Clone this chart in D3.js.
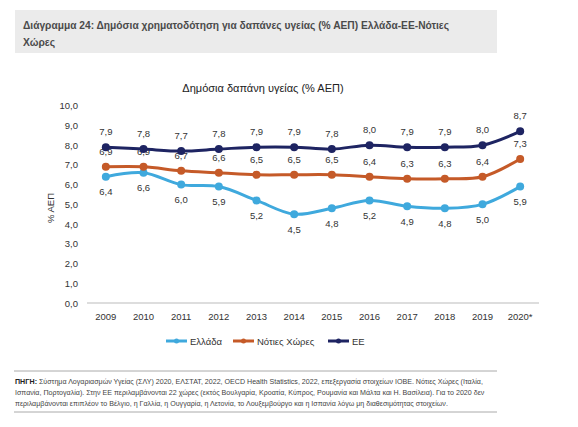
<!DOCTYPE html>
<html><head><meta charset="utf-8">
<script src="https://cdn.jsdelivr.net/npm/d3@7"></script>
<style>body{margin:0;background:#fff;} text{font-family:Arial,"Liberation Sans",sans-serif;}</style>
</head><body>
<svg id="c" width="578" height="427"></svg>
<script>
const years = ["2009","2010","2011","2012","2013","2014","2015","2016","2017","2018","2019","2020*"];
const greece = [6.4,6.6,6.0,5.9,5.2,4.5,4.8,5.2,4.9,4.8,5.0,5.9];
const south = [6.9,6.9,6.7,6.6,6.5,6.5,6.5,6.4,6.3,6.3,6.4,7.3];
const eu = [7.9,7.8,7.7,7.8,7.9,7.9,7.8,8.0,7.9,7.9,8.0,8.7];
const yTicks = [0,1,2,3,4,5,6,7,8,9,10];
const seriesNames = ["Ελλάδα","Νότιες Χώρες","ΕΕ"];
const colors = ["#3fa9dd","#c55a28","#1e2462"];

const svg = d3.select("#c");
// header box
svg.append("rect").attr("x",15).attr("y",10).attr("width",482).attr("height",43).attr("fill","#ebebeb");
svg.append("text").attr("x",23).attr("y",28.5).attr("font-size",10.3).attr("font-weight","bold").attr("fill","#4a4a4a")
  .attr("textLength",426).attr("lengthAdjust","spacingAndGlyphs")
  .text("Διάγραμμα 24: Δημόσια χρηματοδότηση για δαπάνες υγείας (% ΑΕΠ) Ελλάδα-ΕΕ-Νότιες");
svg.append("text").attr("x",23).attr("y",46).attr("font-size",10.3).attr("font-weight","bold").attr("fill","#4a4a4a")
  .text("Χώρες");
svg.append("text").attr("x",263).attr("y",92).attr("text-anchor","middle").attr("font-size",11).attr("fill","#222")
  .text("Δημόσια δαπάνη υγείας (% ΑΕΠ)");

const x = d3.scalePoint().domain(years).range([87,539]).padding(0.5);
const y = d3.scaleLinear().domain([0,10]).range([303,105.7]);

// y axis labels
const yFmt = v => d3.format(".1f")(v).replace(".",",");
svg.append("g").selectAll("text").data(yTicks).join("text")
  .attr("x",78).attr("y",d=>y(d)+3.5).attr("text-anchor","end").attr("font-size",9.5).attr("fill","#333")
  .text(yFmt);
svg.append("text").attr("transform","translate(54,208) rotate(-90)").attr("text-anchor","middle")
  .attr("font-size",9.5).attr("fill","#333").text("% ΑΕΠ");
// x axis
svg.append("line").attr("x1",87).attr("x2",539).attr("y1",y(0)).attr("y2",y(0)).attr("stroke","#bbb").attr("stroke-width",1);
svg.append("g").selectAll("text").data(years).join("text")
  .attr("x",d=>x(d)).attr("y",320).attr("text-anchor","middle").attr("font-size",9.5).attr("fill","#333").text(d=>d);

const data = [greece, south, eu];
const offsets = [15, -12, -12];
const line = d3.line().x((d,i)=>x(years[i])).y(d=>y(d)).curve(d3.curveCatmullRom.alpha(0.5));
data.forEach((s,k)=>{
  const g = svg.append("g");
  g.append("path").attr("d",line(s)).attr("fill","none").attr("stroke",colors[k]).attr("stroke-width",3);
  g.selectAll("circle").data(s).join("circle").attr("cx",(d,i)=>x(years[i])).attr("cy",d=>y(d)).attr("r",4).attr("fill",colors[k]);
  g.selectAll("text").data(s).join("text").attr("x",(d,i)=>x(years[i])).attr("y",d=>y(d)+offsets[k]+(offsets[k]>0?3.5:0))
    .attr("text-anchor","middle").attr("font-size",9.5).attr("fill","#333").text(yFmt);
});

// legend
const legX = [166,233,328];
seriesNames.forEach((n,k)=>{
  const g = svg.append("g");
  g.append("line").attr("x1",legX[k]).attr("x2",legX[k]+21).attr("y1",341).attr("y2",341).attr("stroke",colors[k]).attr("stroke-width",3);
  g.append("circle").attr("cx",legX[k]+10.5).attr("cy",341).attr("r",2.5).attr("fill",colors[k]);
  g.append("text").attr("x",legX[k]+24).attr("y",344.5).attr("font-size",9.5).attr("fill","#333").text(n);
});

// source
svg.append("line").attr("x1",14).attr("x2",497).attr("y1",371).attr("y2",371).attr("stroke","#aaa").attr("stroke-width",1);
svg.append("line").attr("x1",14).attr("x2",497).attr("y1",412).attr("y2",412).attr("stroke","#aaa").attr("stroke-width",1);
const fs = 7.1;
const src = svg.append("text").attr("x",15).attr("y",384).attr("font-size",fs).attr("fill","#444");
src.append("tspan").attr("font-weight","bold").attr("fill","#222").text("ΠΗΓΗ: ");
src.append("tspan").text("Σύστημα Λογαριασμών Υγείας (ΣΛΥ) 2020, ΕΛΣΤΑΤ, 2022, OECD Health Statistics, 2022, επεξεργασία στοιχείων ΙΟΒΕ. Νότιες Χώρες (Ιταλία,");
svg.append("text").attr("x",15).attr("y",395).attr("font-size",fs).attr("fill","#444")
  .text("Ισπανία, Πορτογαλία). Στην ΕΕ περιλαμβάνονται 22 χώρες (εκτός Βουλγαρία, Κροατία, Κύπρος, Ρουμανία και Μάλτα και Η. Βασίλεια). Για το 2020 δεν");
svg.append("text").attr("x",15).attr("y",406).attr("font-size",fs).attr("fill","#444")
  .text("περιλαμβάνονται επιπλέον το Βέλγιο, η Γαλλία, η Ουγγαρία, η Λετονία, το Λουξεμβούργο και η Ισπανία λόγω μη διαθεσιμότητας στοιχείων.");
</script>
</body></html>
